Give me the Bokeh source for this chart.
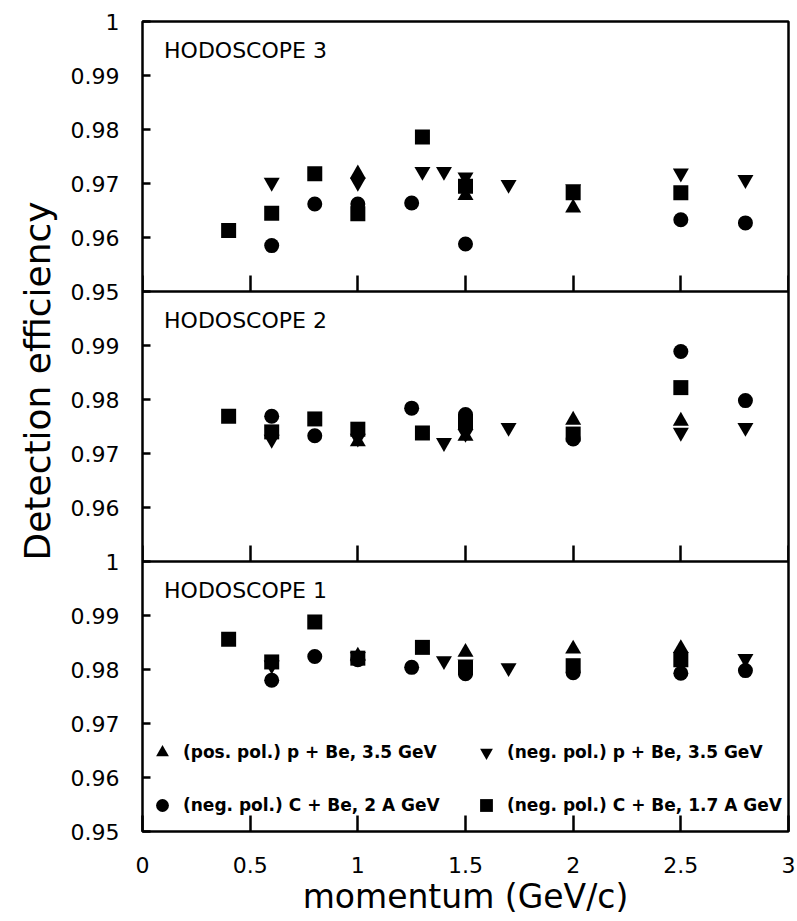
from math import pi
from bokeh.plotting import figure
from bokeh.models import Range1d, LinearAxis, FixedTicker, Label, Legend, LegendItem, Title
from bokeh.embed import file_html
from bokeh.resources import INLINE

# ---------------- data ----------------
x_ticks = [0, 0.5, 1, 1.5, 2, 2.5, 3]
x_tick_labels = ["0", "0.5", "1", "1.5", "2", "2.5", "3"]
y_ticks = [0.95, 0.96, 0.97, 0.98, 0.99, 1.0]
y_tick_labels = ["0.95", "0.96", "0.97", "0.98", "0.99", "1"]
y_lo, y_hi = 0.95, 1.0

panel_titles = ["HODOSCOPE 3", "HODOSCOPE 2", "HODOSCOPE 1"]
series_labels = ["(pos. pol.) p + Be, 3.5 GeV", "(neg. pol.) p + Be, 3.5 GeV",
                 "(neg. pol.) C + Be, 2 A GeV", "(neg. pol.) C + Be, 1.7 A GeV"]
series_markers = ["triangle", "inverted_triangle", "circle", "square"]

# HODOSCOPE 3
h3_pos_p_x = [1.0, 1.5, 2.0]
h3_pos_p_y = [0.9718, 0.9678, 0.9655]
h3_neg_p_x = [0.6, 1.0, 1.3, 1.4, 1.5, 1.7, 2.0, 2.5, 2.8]
h3_neg_p_y = [0.9702, 0.9702, 0.9722, 0.9722, 0.9712, 0.9698, 0.9690, 0.9719, 0.9707]
h3_c2_x = [0.6, 0.8, 1.0, 1.25, 1.5, 2.5, 2.8]
h3_c2_y = [0.9585, 0.9662, 0.9662, 0.9664, 0.9588, 0.9633, 0.9627]
h3_c17_x = [0.4, 0.6, 0.8, 1.0, 1.3, 1.5, 2.0, 2.5]
h3_c17_y = [0.9613, 0.9645, 0.9718, 0.9644, 0.9786, 0.9695, 0.9683, 0.9683]

# HODOSCOPE 2
h2_pos_p_x = [1.0, 1.5, 2.0, 2.5]
h2_pos_p_y = [0.9722, 0.9732, 0.9762, 0.9760]
h2_neg_p_x = [0.6, 1.0, 1.4, 1.5, 1.7, 2.5, 2.8]
h2_neg_p_y = [0.9726, 0.9728, 0.9720, 0.9737, 0.9748, 0.9739, 0.9748]
h2_c2_x = [0.6, 0.8, 1.25, 1.5, 2.0, 2.5, 2.8]
h2_c2_y = [0.9769, 0.9733, 0.9784, 0.9772, 0.9727, 0.9889, 0.9798]
h2_c17_x = [0.4, 0.6, 0.8, 1.0, 1.3, 1.5, 2.0, 2.5]
h2_c17_y = [0.9769, 0.9740, 0.9764, 0.9745, 0.9738, 0.9759, 0.9736, 0.9822]

# HODOSCOPE 1
h1_pos_p_x = [1.0, 1.5, 2.0, 2.5]
h1_pos_p_y = [0.9825, 0.9832, 0.9838, 0.9839]
h1_neg_p_x = [0.6, 1.0, 1.4, 1.5, 1.7, 2.8]
h1_neg_p_y = [0.9808, 0.9824, 0.9816, 0.9810, 0.9803, 0.9820]
h1_c2_x = [0.6, 0.8, 1.0, 1.25, 1.5, 2.0, 2.5, 2.8]
h1_c2_y = [0.9780, 0.9824, 0.9818, 0.9804, 0.9792, 0.9794, 0.9793, 0.9798]
h1_c17_x = [0.4, 0.6, 0.8, 1.0, 1.3, 1.5, 2.0, 2.5]
h1_c17_y = [0.9856, 0.9814, 0.9888, 0.9821, 0.9841, 0.9803, 0.9807, 0.9818]

# ---------------- figure ----------------
FONT = "DejaVu Sans"
span = y_hi - y_lo
p = figure(width=797, height=921, x_range=Range1d(0, 3),
           y_range=Range1d(y_lo - 2 * span, y_hi),
           output_backend="svg", toolbar_location=None,
           min_border_left=142, min_border_right=9, min_border_top=21, min_border_bottom=90)
# each hodoscope panel gets its own efficiency scale, stacked top to bottom
p.extra_y_ranges = {"h2": Range1d(y_lo - span, y_hi + span),
                    "h1": Range1d(y_lo, y_hi + 2 * span)}
p.xgrid.visible = False
p.ygrid.visible = False
p.outline_line_color = "black"
p.outline_line_width = 2.5
p.background_fill_color = "white"
p.border_fill_color = "white"

range_names = ["default", "h2", "h1"]

# left axis: tick positions of all three panels expressed on the top panel's scale
tick_pos, tick_lab = [], {}
for k in range(3):
    for t, lab in zip(y_ticks, y_tick_labels):
        pos = round(t - k * span, 6)
        inner = y_ticks[0] < t < y_ticks[-1]
        if pos not in tick_lab:
            tick_pos.append(pos)
            tick_lab[pos] = lab if (k != 1 or inner) else ""
        elif k != 1 and tick_lab[pos] == "":
            tick_lab[pos] = lab

ya = p.yaxis[0]
ya.ticker = FixedTicker(ticks=tick_pos)
ya.major_label_overrides = tick_lab
ya.major_tick_in = 8
ya.major_tick_out = 0
ya.minor_tick_line_color = None
ya.major_tick_line_width = 2.5
ya.major_tick_line_color = "black"
ya.axis_line_color = None
ya.major_label_text_font = FONT
ya.major_label_text_font_size = "22px"
ya.major_label_text_color = "black"
ya.major_label_standoff = 23


def style_x(ax):
    ax.ticker = FixedTicker(ticks=x_ticks)
    ax.major_tick_in = 16
    ax.major_tick_out = 0
    ax.minor_tick_line_color = None
    ax.major_tick_line_width = 2.5
    ax.major_tick_line_color = "black"


xb = p.xaxis[0]
style_x(xb)
xb.axis_line_color = None
xb.major_label_overrides = dict(zip(x_ticks, x_tick_labels))
xb.major_label_text_font = FONT
xb.major_label_text_font_size = "22px"
xb.major_label_text_color = "black"
xb.major_label_standoff = 25
xb.axis_label = "momentum (GeV/c)"
xb.axis_label_text_font = FONT
xb.axis_label_text_font_size = "33px"
xb.axis_label_text_font_style = "normal"
xb.axis_label_text_color = "black"
xb.axis_label_standoff = 1

# panel-separating axes (bottom edges of HODOSCOPE 3 and 2)
for rn in range_names[:2]:
    ax = LinearAxis(y_range_name=rn, fixed_location=y_lo)
    style_x(ax)
    ax.axis_line_color = "black"
    ax.axis_line_width = 2.5
    ax.major_label_overrides = {t: "" for t in x_ticks}
    p.add_layout(ax, "below")

panels = [
    [(h3_pos_p_x, h3_pos_p_y), (h3_neg_p_x, h3_neg_p_y), (h3_c2_x, h3_c2_y), (h3_c17_x, h3_c17_y)],
    [(h2_pos_p_x, h2_pos_p_y), (h2_neg_p_x, h2_neg_p_y), (h2_c2_x, h2_c2_y), (h2_c17_x, h2_c17_y)],
    [(h1_pos_p_x, h1_pos_p_y), (h1_neg_p_x, h1_neg_p_y), (h1_c2_x, h1_c2_y), (h1_c17_x, h1_c17_y)],
]
marker_sizes = {"triangle": 16, "inverted_triangle": 16, "circle": 15, "square": 15}

legend_renderers = []
for title, rn, series in zip(panel_titles, range_names, panels):
    rs = []
    for (xs, ys), mk in zip(series, series_markers):
        r = p.scatter(xs, ys, marker=mk, size=marker_sizes[mk], fill_color="black",
                      line_color=None, y_range_name=rn)
        rs.append(r)
    legend_renderers = rs
    p.add_layout(Label(x=0.1, y=0.9946, y_range_name=rn, text=title,
                       text_font=FONT, text_font_size="22px", text_color="black",
                       text_baseline="alphabetic", text_align="left"))

# legend (two columns, inside HODOSCOPE 1)
for cols, vx in [((0, 2), 4), ((1, 3), 328)]:
    items = [LegendItem(label=series_labels[i], renderers=[legend_renderers[i]]) for i in cols]
    lg = Legend(items=items, location=(vx, 10), orientation="vertical",
                glyph_width=32, glyph_height=32, spacing=21, label_standoff=5,
                padding=0, margin=0, border_line_color=None, background_fill_alpha=0,
                label_text_font=FONT, label_text_font_size="17px",
                label_text_font_style="bold", label_text_color="black")
    p.add_layout(lg, "center")

# y axis title spanning all panels
p.add_layout(Title(text="Detection efficiency", align="left", offset=271, standoff=20,
                   text_font=FONT, text_font_size="36px", text_font_style="normal",
                   text_color="black"), "left")

open("out.html", "w").write(file_html(p, INLINE))
